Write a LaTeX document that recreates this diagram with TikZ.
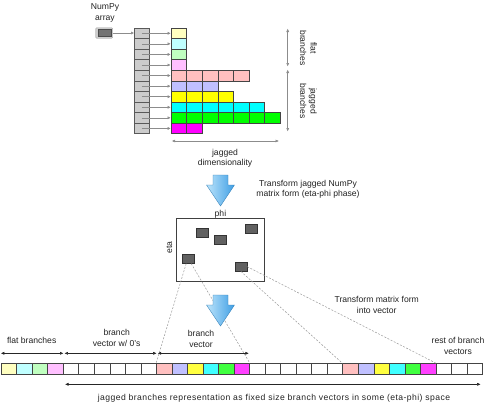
\documentclass[tikz,border=0pt]{standalone}
\usepackage{fontspec}
\setmainfont{Liberation Sans}
\usetikzlibrary{calc,arrows.meta}
\definecolor{txt}{HTML}{222222}
\definecolor{cellborder}{HTML}{444444}
\definecolor{r1}{HTML}{FFFFC0}
\definecolor{r2}{HTML}{C0FFFF}
\definecolor{r3}{HTML}{C0FFC0}
\definecolor{r4}{HTML}{FFC0FF}
\definecolor{r5}{HTML}{FFC0C0}
\definecolor{r6}{HTML}{C0C0FF}
\definecolor{r7}{HTML}{FFFF00}
\definecolor{r8}{HTML}{00FFFF}
\definecolor{r9}{HTML}{00FF00}
\definecolor{r10}{HTML}{FF00FF}
\definecolor{v7}{HTML}{FFFF40}
\definecolor{v8}{HTML}{40FFFF}
\definecolor{v9}{HTML}{40FF40}
\definecolor{v10}{HTML}{FF40FF}
\definecolor{bluelight}{HTML}{BCE4FB}
\definecolor{bluedark}{HTML}{3E9EE4}
\tikzset{
  lbl/.style={text=txt, font=\fontsize{8.6}{10.4}\selectfont, align=center, inner sep=0pt},
  cell/.style={draw=cellborder, line width=0.6pt, minimum width=15.6pt, minimum height=10.57pt, inner sep=0pt, anchor=north west},
  colcell/.style={cell, fill=black!20, draw=black!65, minimum width=15.3pt},
  vcell/.style={draw=cellborder, line width=0.6pt, minimum width=15.53pt, minimum height=11pt, inner sep=0pt, anchor=north west, fill=white},
  conn/.style={draw=black!45, line width=0.5pt, -{Latex[length=3pt,width=3pt]}},
  graydbl/.style={draw=black!45, line width=0.5pt, {Latex[length=3.5pt,width=3pt]}-{Latex[length=3.5pt,width=3pt]}},
  blackdbl/.style={draw=black!85, line width=0.5pt, {Latex[length=3.5pt,width=3pt]}-{Latex[length=3.5pt,width=3pt]}},
  dashline/.style={draw=black!40, line width=0.5pt, dash pattern=on 2pt off 1.5pt},
  dot/.style={draw=black!80, fill=black!62, line width=0.5pt, minimum width=12pt, minimum height=9pt, inner sep=0pt},
  bigarrow/.style={left color=bluelight, right color=bluedark, draw=bluedark!80!black, line width=0.3pt}
}
\begin{document}
\begin{tikzpicture}[x=1pt,y=-1pt]
\useasboundingbox (0,0) rectangle (498,407);
% NumPy array
\node[lbl] (nplabel) at (105,13) {NumPy\\array};
\node[draw=black!40, fill=black!20, rounded corners=1pt, minimum width=17pt, minimum height=10.5pt, inner sep=0pt] (np) at (104.2,33) {};
\node[draw=black!70, fill=black!55, minimum width=13pt, minimum height=7pt, inner sep=0pt] (npin) at (104.2,33) {};
% column
\foreach \i in {1,...,10} {
  \node[colcell] (c-\i) at (134,{27.7+(\i-1)*10.57}) {};
}
\draw[conn] (np.east) -- (np.east -| c-1.west);
% grid rows
\foreach \i/\n in {1/1,2/1,3/1,4/1,5/5,6/3,7/4,8/6,9/7,10/2} {
  \foreach \j in {1,...,\n} {
    \node[cell, fill=r\i] (g-\i-\j) at ({170.7+(\j-1)*15.6},{27.7+(\i-1)*10.57}) {};
  }
  \draw[conn] (c-\i.center) -- (g-\i-1.west);
}
% right vertical arrows
\coordinate (fa) at (287.7,28.5);
\coordinate (fb) at (287.7,66.5);
\coordinate (ja) at (287.7,69.5);
\coordinate (jb) at (287.7,131.5);
\draw[graydbl] (fa) -- (fb);
\draw[graydbl] (ja) -- (jb);
\node[lbl, rotate=-90] (flatlbl) at (308.5,48) {flat\\branches};
\node[lbl, rotate=-90] (jaglbl) at (308.5,101) {jagged\\branches};
% jagged dimensionality
\coordinate (da) at (171.7,141);
\coordinate (db) at (279,141);
\draw[graydbl] (da) -- (db);
\node[lbl] (dimlbl) at (225,158) {jagged\\dimensionality};
% big arrow 1
\shade[bigarrow] (213,175) -- (228,175) -- (228,185) -- (234.5,185) -- (220.5,206) -- (206.5,185) -- (213,185) -- cycle;
\node[lbl] (t1) at (308,189) {Transform jagged NumPy\\matrix form (eta-phi phase)};
% eta-phi box
\node[draw=black!75, line width=0.6pt, fill=white, minimum width=88.3pt, minimum height=62.7pt, inner sep=0pt, anchor=north west] (box) at (176,218.3) {};
\node[lbl, anchor=south] (phi) at (box.north) {phi};
\node[lbl, rotate=90] (eta) at (169.3,247.5) {eta};
\node[dot] (s1) at (202.2,232.8) {};
\node[dot] (s2) at (219.8,239.5) {};
\node[dot] (s3) at (250.8,228.4) {};
\node[dot] (s4) at (188.7,258.8) {};
\node[dot] (s5) at (241,266.7) {};
% vector
\foreach \k in {1,...,31} {
  \node[vcell] (v-\k) at ({0.8+(\k-1)*15.53},363.3) {};
}
\foreach \k/\c in {1/r1,2/r2,3/r3,4/r4,11/r5,12/r6,13/v7,14/v8,15/v9,16/v10,23/r5,24/r6,25/v7,26/v8,27/v9,28/v10} {
  \node[vcell, fill=\c] at (v-\k.north west) {};
}
% dashed lines
\draw[dashline] ($(s4.south)+(-2.5,0)$) -- (v-11.north west);
\draw[dashline] ($(s4.south)+(2.5,0)$) -- (v-16.north east);
\draw[dashline] (s5.south) -- (v-23.north west);
\draw[dashline] (s5.east) -- (v-28.north east);
% big arrow 2
\shade[bigarrow] (213,295) -- (228,295) -- (228,305) -- (234.5,305) -- (220.5,326) -- (206.5,305) -- (213,305) -- cycle;
\node[lbl] (t2) at (376.7,305) {Transform matrix form\\into vector};
% arrows above vector
\coordinate (a1) at ($(v-1.north west)+(0,-10)$);
\coordinate (a2) at ($(v-4.north east)+(0,-10)$);
\coordinate (a3) at ($(v-5.north west)+(1.5,-10)$);
\coordinate (a4) at ($(v-10.north east)+(0,-10)$);
\coordinate (a5) at ($(v-11.north west)+(1.5,-10)$);
\coordinate (a6) at ($(v-16.north east)+(-1,-10)$);
\draw[blackdbl] (a1) -- (a2);
\draw[blackdbl] (a3) -- (a4);
\draw[blackdbl] (a5) -- (a6);
\node[lbl] (fl) at (31.7,340) {flat branches};
\node[lbl] (bv0) at (116.7,338) {branch\\vector w/ 0's};
\node[lbl] (bv) at (201,339) {branch\\vector};
\node[lbl] (rest) at (458,346) {rest of branch\\vectors};
% bottom arrow
\coordinate (b1) at (65,384.3);
\coordinate (b2) at (480.7,384.3);
\draw[blackdbl] (b1) -- (b2);
\node[lbl, font=\fontsize{8.6}{10.4}\selectfont\addfontfeatures{LetterSpace=5}] (bottom) at (274,398.3) {jagged branches representation as fixed size branch vectors in some (eta-phi) space};
\end{tikzpicture}
\end{document}
